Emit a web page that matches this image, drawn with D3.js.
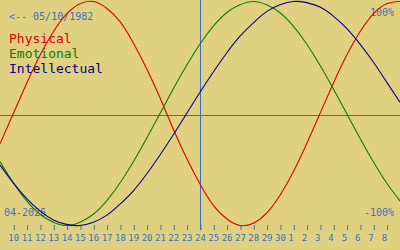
<!DOCTYPE html>
<html>
<head>
<meta charset="utf-8">
<script src="https://cdn.jsdelivr.net/npm/d3@7"></script>
<style>
  html, body { margin: 0; padding: 0; background: #e0d181; overflow: hidden; }
  svg { display: block; }
</style>
</head>
<body>
<svg id="chart" width="400" height="250"></svg>
<script>
// Days shown: Apr 9 2026 (index 0) ... May 9 2026 (index 30)
const dayLabels = ["", "10","11","12","13","14","15","16","17","18","19","20","21","22","23","24","25","26","27","28","29","30","1","2","3","4","5","6","7","8", ""];
const physical = [-0.27, 0, 0.27, 0.52, 0.73, 0.89, 0.98, 1.00, 0.94, 0.82, 0.63, 0.40, 0.14, -0.14, -0.40, -0.63,
                  -0.82, -0.94, -1.00, -0.98, -0.89, -0.73, -0.52, -0.27, 0, 0.27, 0.52, 0.73, 0.89, 0.98, 1.00];
const emotional = [-0.43, -0.62, -0.78, -0.90, -0.97, -1.00, -0.97, -0.90, -0.78, -0.62, -0.43, -0.22, 0, 0.22, 0.43, 0.62,
                   0.78, 0.90, 0.97, 1.00, 0.97, 0.90, 0.78, 0.62, 0.43, 0.22, 0, -0.22, -0.43, -0.62, -0.78];
const intellectual = [-0.46, -0.62, -0.76, -0.87, -0.95, -0.99, -1.00, -0.97, -0.91, -0.81, -0.69, -0.54, -0.37, -0.19, 0, 0.19,
                      0.37, 0.54, 0.69, 0.81, 0.91, 0.97, 1.00, 0.99, 0.95, 0.87, 0.76, 0.62, 0.46, 0.28, 0.10];
const todayIndex = 15;
const seriesNames = ["Physical", "Emotional", "Intellectual"];
const birthLabel = "<-- 05/10/1982";
const monthLabel = "04-2026";
const topLabel = "100%";
const bottomLabel = "-100%";

const W = 400, H = 250;
const blue = "#3a70c4";
const colors = ["#dc0000", "#117c00", "#00008c"];
const svg = d3.select("#chart");
const mono = "'DejaVu Sans Mono', 'Liberation Mono', monospace";

const x = d3.scaleLinear().domain([0, dayLabels.length - 1]).range([0, W]);
const y = d3.scaleLinear().domain([-1, 1]).range([225.5, 1.5]);

// midline and today line
const midY = 115.5;
svg.append("line").attr("x1", 0).attr("x2", W).attr("y1", midY).attr("y2", midY)
  .attr("stroke", blue).attr("stroke-width", 1);
svg.append("line").attr("x1", x(todayIndex) + 0.5).attr("x2", x(todayIndex) + 0.5).attr("y1", 0).attr("y2", 230)
  .attr("stroke", blue).attr("stroke-width", 1);

// day axis
const tickIdx = d3.range(1, dayLabels.length - 1);
const axis = d3.axisBottom(x).tickValues(tickIdx).tickSize(5).tickFormat(i => dayLabels[i]);
const gAxis = svg.append("g").attr("transform", "translate(0,225)").call(axis);
gAxis.select(".domain").remove();
gAxis.selectAll(".tick line").attr("stroke", blue).attr("transform", "translate(0.5,0)");
gAxis.selectAll(".tick text")
  .attr("fill", blue).attr("font-family", mono).attr("font-size", 9)
  .attr("text-anchor", "start").attr("dy", 0).attr("y", 16)
  .attr("x", -5.5);

// texts
svg.append("text").attr("x", 9).attr("y", 20).text(birthLabel)
  .attr("fill", blue).attr("font-family", mono).attr("font-size", 10);
svg.append("text").attr("x", 4).attr("y", 216).text(monthLabel)
  .attr("fill", blue).attr("font-family", mono).attr("font-size", 10);
svg.append("text").attr("x", 394).attr("y", 16).attr("text-anchor", "end").text(topLabel)
  .attr("fill", blue).attr("font-family", mono).attr("font-size", 10);
svg.append("text").attr("x", 394).attr("y", 216).attr("text-anchor", "end").text(bottomLabel)
  .attr("fill", blue).attr("font-family", mono).attr("font-size", 10);

svg.selectAll("text.legend").data(seriesNames).enter().append("text")
  .attr("class", "legend")
  .attr("x", 9).attr("y", (d, i) => 43 + i * 14.8)
  .attr("fill", (d, i) => colors[i])
  .attr("font-family", mono).attr("font-size", 13)
  .text(d => d);

// curves
const line = d3.line().x((d, i) => x(i)).y(d => y(d)).curve(d3.curveNatural);
[physical, emotional, intellectual].forEach((s, i) => {
  svg.append("path").attr("d", line(s)).attr("fill", "none")
    .attr("stroke", colors[i]).attr("stroke-width", 1.1);
});
</script>
</body>
</html>
